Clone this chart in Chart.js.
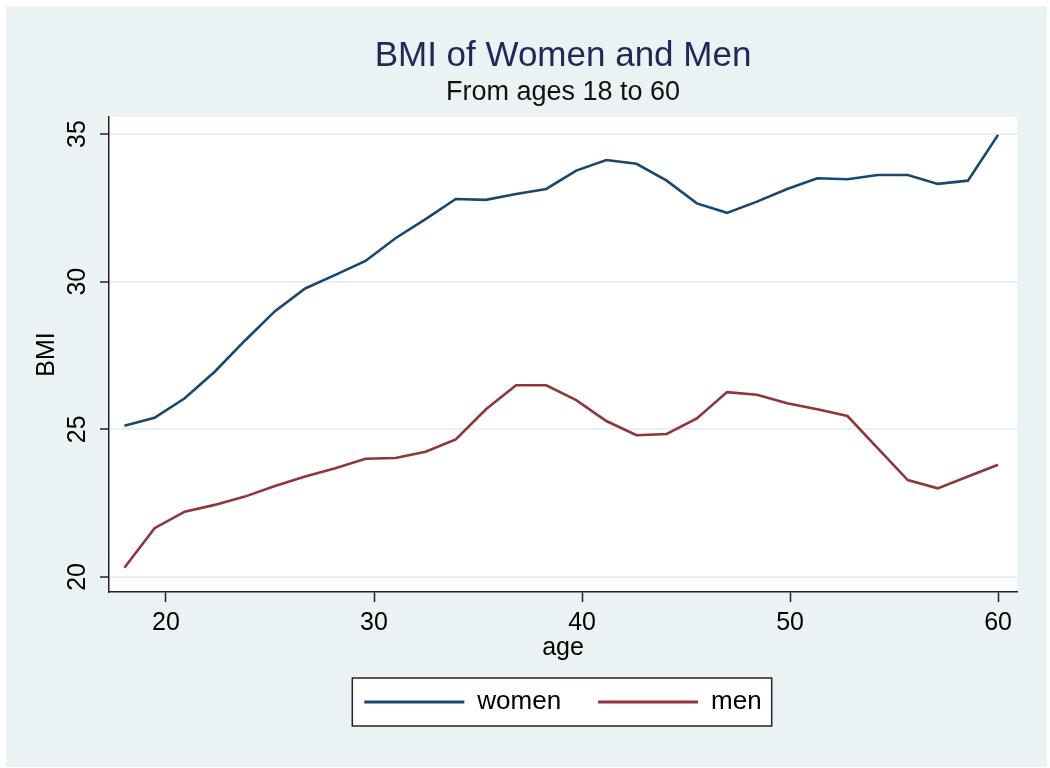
<!DOCTYPE html>
<html><head><meta charset="utf-8">
<script src="https://cdn.jsdelivr.net/npm/chart.js@4.4.1/dist/chart.umd.min.js"></script>
<style>html,body{margin:0;padding:0;background:#fff;overflow:hidden}</style>
</head><body>
<canvas id="c" width="1050" height="768" style="display:block;width:1050px;height:768px"></canvas>
<script>
const ages = [18, 19.45, 20.9, 22.34, 23.79, 25.24, 26.69, 28.14, 29.59, 31.03, 32.48, 33.93, 35.38, 36.83, 38.28, 39.72, 41.17, 42.62, 44.07, 45.52, 46.97, 48.41, 49.86, 51.31, 52.76, 54.21, 55.66, 57.10, 58.55, 60];
const women = [25.12, 25.39, 26.05, 26.95, 28.0, 29.0, 29.77, 30.23, 30.70, 31.47, 32.12, 32.80, 32.77, 32.97, 33.14, 33.76, 34.12, 33.99, 33.42, 32.65, 32.33, 32.71, 33.14, 33.50, 33.47, 33.61, 33.61, 33.31, 33.42, 34.97];
const men = [20.31, 21.65, 22.21, 22.44, 22.72, 23.08, 23.40, 23.68, 24.0, 24.03, 24.24, 24.66, 25.68, 26.49, 26.49, 25.99, 25.28, 24.80, 24.84, 25.37, 26.26, 26.17, 25.88, 25.68, 25.45, 24.36, 23.28, 23.0, 23.40, 23.80];
const xTicks = [20, 30, 40, 50, 60];
const yTicks = [20, 25, 30, 35];
const seriesNames = ['women', 'men'];
const seriesColors = ['#1a476f', '#90353b'];

const FONT = '"Liberation Sans", Arial, Helvetica, sans-serif';

const bgPlugin = {
  id: 'bgPlugin',
  beforeDraw(chart) {
    const ctx = chart.ctx;
    ctx.save();
    ctx.fillStyle = '#ffffff';
    ctx.fillRect(0, 0, chart.width, chart.height);
    ctx.fillStyle = '#eaf2f3';
    ctx.fillRect(6, 6, chart.width - 9, chart.height - 7);
    const a = chart.chartArea;
    ctx.fillStyle = '#ffffff';
    ctx.fillRect(a.left, a.top, a.right - a.left, a.bottom - a.top);
    const lg = chart.legend;
    if (lg && lg.legendHitBoxes && lg.legendHitBoxes.length) {
      const hb = lg.legendHitBoxes;
      let l = Infinity, r = -Infinity, t = Infinity, b = -Infinity;
      hb.forEach(h => { l = Math.min(l, h.left); r = Math.max(r, h.left + h.width); t = Math.min(t, h.top); b = Math.max(b, h.top + h.height); });
      l -= 12; r += 10; t -= 11; b += 11;
      ctx.fillStyle = '#ffffff';
      ctx.fillRect(l, t, r - l, b - t);
      ctx.strokeStyle = '#222';
      ctx.lineWidth = 1.5;
      ctx.strokeRect(l, t, r - l, b - t);
    }
    ctx.restore();
  }
};

new Chart(document.getElementById('c'), {
  type: 'line',
  data: {
    datasets: [
      { label: seriesNames[0], data: ages.map((a, i) => ({x: a, y: women[i]})), borderColor: seriesColors[0], backgroundColor: seriesColors[0], borderWidth: 2.6, pointRadius: 0, tension: 0, fill: false },
      { label: seriesNames[1], data: ages.map((a, i) => ({x: a, y: men[i]})), borderColor: seriesColors[1], backgroundColor: seriesColors[1], borderWidth: 2.6, pointRadius: 0, tension: 0, fill: false }
    ]
  },
  options: {
    responsive: false,
    animation: false,
    devicePixelRatio: 1,
    layout: { padding: { left: 0, right: 33, top: 0, bottom: 43 } },
    scales: {
      x: {
        type: 'linear', position: 'bottom', min: 17.26, max: 60.91,
        afterBuildTicks: s => { s.ticks = xTicks.map(v => ({ value: v })); },
        afterFit: s => { s.height = 60; },
        ticks: { font: { family: FONT, size: 25 }, color: '#000', padding: 6, autoSkip: false, maxRotation: 0, minRotation: 0 },
        grid: { drawOnChartArea: false, drawTicks: true, tickLength: 10, tickColor: '#222', tickWidth: 1.5 },
        border: { display: true, color: '#222', width: 1.5 },
        title: { display: true, text: 'age', color: '#000', font: { family: FONT, size: 25, lineHeight: 1 }, padding: { top: 0, bottom: -8.5 } }
      },
      y: {
        type: 'linear', position: 'left', min: 19.49, max: 35.576,
        afterBuildTicks: s => { s.ticks = yTicks.map(v => ({ value: v })); },
        afterFit: s => { s.width = 109; },
        ticks: { font: { family: FONT, size: 25 }, color: '#000', padding: 8, minRotation: 90, maxRotation: 90, crossAlign: 'center', autoSkip: false },
        grid: { color: '#eaf0f2', lineWidth: 2, drawTicks: true, tickLength: 9, tickColor: '#222', tickWidth: 1.5 },
        border: { display: true, color: '#222', width: 1.5 },
        title: { display: true, text: 'BMI', color: '#000', font: { family: FONT, size: 25, lineHeight: 1 }, padding: { top: 35, bottom: 0 } }
      }
    },
    plugins: {
      title: { display: true, text: 'BMI of Women and Men', fullSize: false, color: '#1f2856', font: { family: FONT, size: 35, weight: 'normal', lineHeight: 1.2 }, padding: { top: 35, bottom: 0 } },
      subtitle: { display: true, text: 'From ages 18 to 60', fullSize: false, color: '#111', font: { family: FONT, size: 27, weight: 'normal', lineHeight: 1 }, padding: { top: 2, bottom: 11 } },
      legend: {
        display: true, position: 'bottom', fullSize: false,
        labels: {
          boxWidth: 100, boxHeight: 3, padding: 37, color: '#000',
          font: { family: FONT, size: 26 },
          generateLabels: chart => chart.data.datasets.map((d, i) => ({ text: d.label, fillStyle: d.borderColor, strokeStyle: d.borderColor, lineWidth: 0, hidden: false, datasetIndex: i, fontColor: '#000' }))
        }
      },
      tooltip: { enabled: false }
    }
  },
  plugins: [bgPlugin]
});
</script>
</body></html>
